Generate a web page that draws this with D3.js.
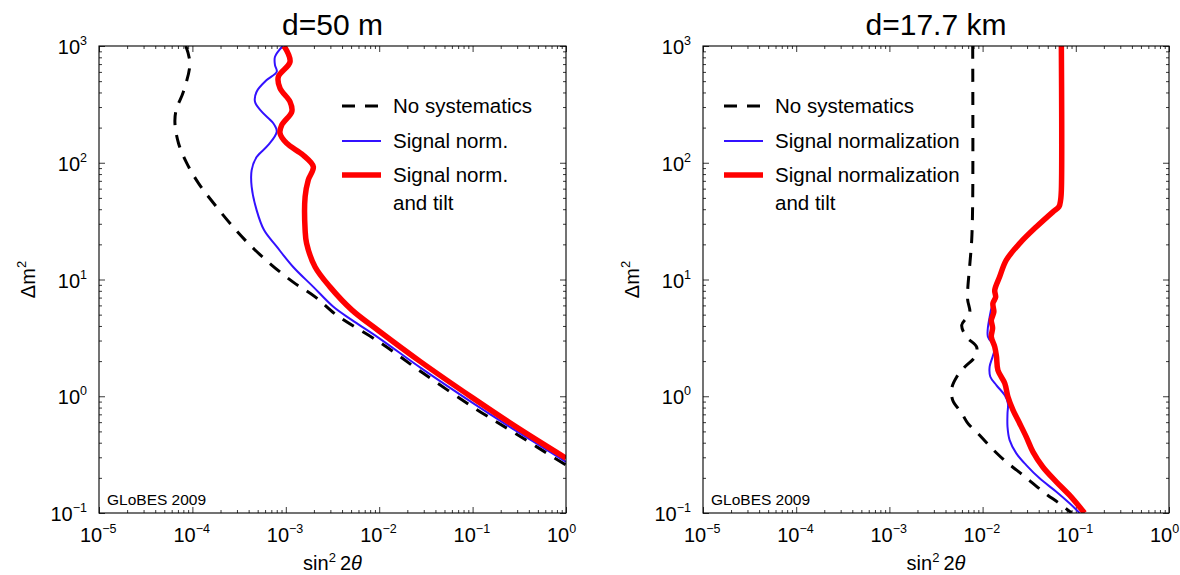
<!DOCTYPE html>
<html>
<head>
<meta charset="utf-8">
<script src="https://cdn.jsdelivr.net/npm/d3@7"></script>
<style>
  body { margin: 0; background: #fff; }
  text { font-family: "Liberation Sans", Arial, Helvetica, sans-serif; fill: #000; }
</style>
</head>
<body>
<svg id="chart" width="1180" height="575"></svg>
<script>
// axis ticks
const xTickValues = [1e-5, 1e-4, 1e-3, 1e-2, 1e-1, 1];
const xTickExps = ["\u22125", "\u22124", "\u22123", "\u22122", "\u22121", "0"];
const yTickValues = [0.1, 1, 10, 100, 1000];
const yTickExps = ["\u22121", "0", "1", "2", "3"];

// d = 50 m : [sin^2 2theta, dm^2]
const nearNoSys = [[8.5e-5, 1000], [9.4e-5, 711], [8.0e-5, 405], [6.7e-5, 283], [6.5e-5, 219], [7.1e-5, 147],
  [8.7e-5, 99.4], [1.16e-4, 67], [1.68e-4, 45.2], [2.74e-4, 28.1], [4.14e-4, 19.7], [7.06e-4, 13.3],
  [1.2e-3, 9.5], [2.08e-3, 7.06], [3.5e-3, 4.95], [1.045e-2, 2.85], [2.94e-2, 1.58], [0.101, 0.807],
  [0.284, 0.483], [1, 0.257]];
const nearNorm = [[9.27e-4, 1000], [7.66e-4, 809], [7.66e-4, 687], [8.0e-4, 602], [6.24e-4, 511], [4.87e-4, 406],
  [4.68e-4, 333], [5.52e-4, 274], [7.35e-4, 218], [8.0e-4, 185], [6.5e-4, 142], [4.87e-4, 112],
  [4.31e-4, 86.5], [4.31e-4, 62.3], [4.87e-4, 39.3], [5.85e-4, 26.5], [8.0e-4, 19.1], [1.2e-3, 12.8],
  [1.97e-3, 8.65], [3.23e-3, 5.84], [5.12e-3, 4.49], [9.95e-3, 3.15], [2.81e-2, 1.74], [0.101, 0.873],
  [0.284, 0.513], [1, 0.274]];
const nearTilt = [[9.58e-4, 1000], [1.11e-3, 733], [8.32e-4, 546], [8.67e-4, 434], [1.11e-3, 333], [1.16e-3, 274],
  [9.04e-4, 210], [8.67e-4, 179], [1.02e-3, 147], [1.54e-3, 116], [1.97e-3, 92.5], [1.74e-3, 71.1],
  [1.61e-3, 51.2], [1.61e-3, 26.5], [1.67e-3, 20.4], [2.06e-3, 12.8], [2.97e-3, 8.65], [5.12e-3, 5.47],
  [9.7e-3, 3.68], [2.81e-2, 1.96], [0.101, 0.964], [0.284, 0.555], [1, 0.295]];

// d = 17.7 km
const farNoSys = [[7.83e-3, 1000], [7.83e-3, 47.9], [7.64e-3, 21.8], [7.28e-3, 13.3], [6.92e-3, 8.11],
  [6.92e-3, 6.65], [7.28e-3, 5.15], [5.97e-3, 4.06], [6.76e-3, 3.21], [8.65e-3, 2.63], [8.23e-3, 2.16],
  [6.43e-3, 1.78], [5.27e-3, 1.46], [4.67e-3, 1.17], [4.78e-3, 0.926], [5.97e-3, 0.717], [6.92e-3, 0.588],
  [8.86e-3, 0.483], [1.11e-2, 0.397], [1.42e-2, 0.325], [1.81e-2, 0.272], [2.32e-2, 0.233],
  [2.97e-2, 0.199], [3.9e-2, 0.166], [4.99e-2, 0.142], [6.38e-2, 0.124], [9.0e-2, 0.1]];
const farNorm = [[7.0e-2, 1000], [7.0e-2, 58.3], [6.87e-2, 47.9], [6.59e-2, 42.0], [5.69e-2, 38.0], [3.78e-2, 28.3],
  [2.5e-2, 20.4], [1.8e-2, 14.7], [1.52e-2, 10.5], [1.35e-2, 8.11], [1.38e-2, 7.06], [1.29e-2, 6.24],
  [1.19e-2, 4.79], [1.14e-2, 3.23], [1.35e-2, 2.65], [1.28e-2, 2.18], [1.19e-2, 1.79], [1.21e-2, 1.47],
  [1.41e-2, 1.24], [1.73e-2, 1.02], [1.87e-2, 0.867], [1.85e-2, 0.713], [1.85e-2, 0.548], [1.95e-2, 0.421],
  [2.3e-2, 0.324], [2.94e-2, 0.257], [4.09e-2, 0.198], [6.18e-2, 0.152], [8.57e-2, 0.121], [0.11, 0.1]];
const farTilt = [[7.0e-2, 1000], [7.0e-2, 58.3], [6.87e-2, 47.9], [6.59e-2, 42.0], [5.69e-2, 38.0], [3.78e-2, 28.3],
  [2.5e-2, 20.4], [1.8e-2, 14.7], [1.52e-2, 10.5], [1.35e-2, 8.11], [1.38e-2, 7.06], [1.29e-2, 6.24],
  [1.32e-2, 5.26], [1.24e-2, 4.49], [1.28e-2, 3.84], [1.24e-2, 3.23], [1.35e-2, 2.65], [1.41e-2, 2.18],
  [1.46e-2, 1.67], [1.73e-2, 1.29], [1.87e-2, 0.989], [2.12e-2, 0.76], [2.5e-2, 0.585], [2.94e-2, 0.449],
  [3.47e-2, 0.334], [4.43e-2, 0.248], [6.18e-2, 0.185], [8.57e-2, 0.142], [0.124, 0.1]];

const svg = d3.select("#chart");
const plotTop = 46, plotBottom = 513;

const panels = [
  { left: 99, right: 566, title: "d=50 m", legendX: 342,
    labels: ["No systematics", "Signal norm.", "Signal norm.", "and tilt"],
    curves: [nearNoSys, nearNorm, nearTilt] },
  { left: 703, right: 1169, title: "d=17.7 km", legendX: 724,
    labels: ["No systematics", "Signal normalization", "Signal normalization", "and tilt"],
    curves: [farNoSys, farNorm, farTilt] }
];

const styles = [
  { stroke: "#000", width: 3, dash: "13,10" },
  { stroke: "#3311ff", width: 2, dash: null },
  { stroke: "#ff0000", width: 5.5, dash: null }
];

function sup(text, base, exp, supSize) {
  text.append("tspan").text(base);
  text.append("tspan").attr("font-size", supSize).attr("dy", -9).text(exp);
}

panels.forEach((p, i) => {
  const x = d3.scaleLog().domain([1e-5, 1]).range([p.left, p.right]);
  const y = d3.scaleLog().domain([0.1, 1000]).range([plotBottom, plotTop]);
  const g = svg.append("g");

  // minor ticks
  const xMinor = [], yMinor = [];
  xTickValues.slice(0, -1).forEach(d => { for (let k = 2; k < 10; k++) xMinor.push(d * k); });
  yTickValues.slice(0, -1).forEach(d => { for (let k = 2; k < 10; k++) yMinor.push(d * k); });

  const axes = [
    [d3.axisBottom(x), `translate(0,${plotBottom})`, xTickValues, xMinor],
    [d3.axisTop(x), `translate(0,${plotTop})`, xTickValues, xMinor],
    [d3.axisLeft(y), `translate(${p.left},0)`, yTickValues, yMinor],
    [d3.axisRight(y), `translate(${p.right},0)`, yTickValues, yMinor]
  ];
  axes.forEach(([ax, tr, major, minor]) => {
    g.append("g").attr("transform", tr)
      .call(ax.tickValues(major).tickSize(-6).tickFormat(""))
      .call(s => s.select(".domain").remove());
    g.append("g").attr("transform", tr)
      .call(ax.tickValues(minor).tickSize(-3).tickFormat(""))
      .call(s => s.select(".domain").remove());
  });
  g.selectAll(".tick line").attr("stroke", "#222").attr("stroke-width", 0.9);

  // curves
  const clipId = "clip" + i;
  svg.append("clipPath").attr("id", clipId)
    .append("rect").attr("x", p.left).attr("y", plotTop)
    .attr("width", p.right - p.left).attr("height", plotBottom - plotTop);

  const line = d3.line()
    .x(d => x(d[0]))
    .y(d => y(d[1]))
    .curve(d3.curveCatmullRom.alpha(0.5));

  p.curves.forEach((c, j) => {
    g.append("path")
      .attr("clip-path", `url(#${clipId})`)
      .attr("d", line(c))
      .attr("fill", "none")
      .attr("stroke", styles[j].stroke)
      .attr("stroke-width", styles[j].width)
      .attr("stroke-dasharray", styles[j].dash)
      .attr("stroke-linejoin", "round");
  });

  // frame
  g.append("rect")
    .attr("x", p.left).attr("y", plotTop)
    .attr("width", p.right - p.left).attr("height", plotBottom - plotTop)
    .attr("fill", "none").attr("stroke", "#000").attr("stroke-width", 1.1);

  // tick labels ("10" sits a little left of its tick, as in the original)
  xTickValues.forEach((v, k) => {
    const t = g.append("text").attr("x", x(v) - 19).attr("y", 542)
      .attr("font-size", 20);
    sup(t, "10", xTickExps[k], 12.5);
  });
  yTickValues.forEach((v, k) => {
    const t = g.append("text").attr("x", p.left - 12).attr("y", y(v) + 8)
      .attr("text-anchor", "end").attr("font-size", 20);
    sup(t, "10", yTickExps[k], 12.5);
  });

  // titles
  const cx = (p.left + p.right) / 2;
  g.append("text").attr("x", cx).attr("y", 35)
    .attr("text-anchor", "middle").attr("font-size", 30).text(p.title);

  const xt = g.append("text").attr("x", cx).attr("y", 570)
    .attr("text-anchor", "middle").attr("font-size", 20);
  xt.append("tspan").text("sin");
  xt.append("tspan").attr("font-size", 13).attr("dy", -8).text("2");
  xt.append("tspan").attr("dy", 8).text("\u20092");
  xt.append("tspan").attr("font-style", "italic").text("\u03b8");

  const yt = g.append("text")
    .attr("transform", `translate(${p.left - 64},${(plotTop + plotBottom) / 2}) rotate(-90)`)
    .attr("text-anchor", "middle").attr("font-size", 20);
  sup(yt, "\u0394m", "2", 13);

  g.append("text").attr("x", p.left + 8).attr("y", 505)
    .attr("font-size", 15.5).text("GLoBES 2009");

  // legend
  const rows = [106, 141, 175];
  rows.forEach((ry, j) => {
    g.append("line")
      .attr("x1", p.legendX).attr("x2", p.legendX + 39)
      .attr("y1", ry).attr("y2", ry)
      .attr("stroke", styles[j].stroke)
      .attr("stroke-width", styles[j].width)
      .attr("stroke-dasharray", styles[j].dash);
    g.append("text").attr("x", p.legendX + 51).attr("y", ry + 7)
      .attr("font-size", 20.5).text(p.labels[j]);
  });
  g.append("text").attr("x", p.legendX + 51).attr("y", 210)
    .attr("font-size", 20.5).text(p.labels[3]);
});
</script>
</body>
</html>
